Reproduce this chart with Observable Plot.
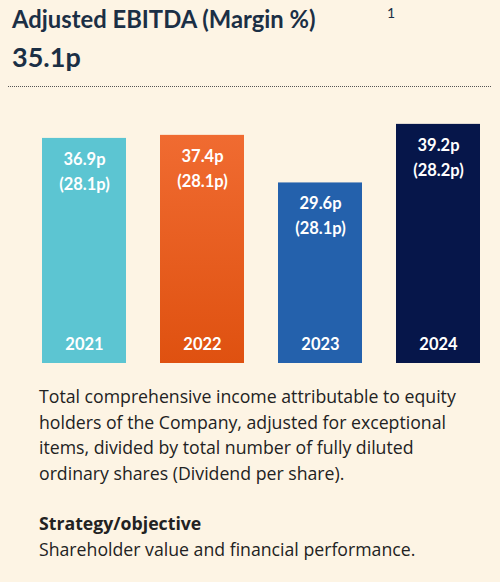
<!DOCTYPE html>
<html>
<head>
<meta charset="utf-8">
<script src="https://cdn.jsdelivr.net/npm/d3@7"></script>
<script src="https://cdn.jsdelivr.net/npm/@observablehq/plot@0.6"></script>
<style>
  html, body { margin: 0; padding: 0; background: #fdf4e4; }
  #card { position: relative; width: 500px; height: 582px; background: #fdf4e4; font-family: Lato, "Open Sans", sans-serif; overflow: hidden; }
  .title { position: absolute; left: 12px; top: 5px; font-size: 23.8px; font-weight: 700; color: #1b2f45; }
  .sup { position: absolute; left: 387px; top: 4px; font-size: 14px; color: #1b2f45; }
  .headline { position: absolute; left: 12px; top: 40px; font-size: 27px; font-weight: 700; color: #1b2f45; }
  .rule { position: absolute; left: 8px; right: 9px; top: 86px; border-top: 1.5px dotted #555; }
  #plot { position: absolute; left: 0; top: 88px; }
  .desc { position: absolute; left: 39px; top: 384px; width: 460px; font-family: "Open Sans", sans-serif; font-size: 17.7px; line-height: 25.5px; color: #222; white-space: nowrap; }
  .desc b { display: block; margin-top: 25px; }
</style>
</head>
<body>
<div id="card">
  <div class="title">Adjusted EBITDA (Margin %)</div>
  <div class="sup">1</div>
  <div class="headline">35.1p</div>
  <div class="rule"></div>
  <div id="plot"></div>
  <div class="desc">
    Total comprehensive income attributable to equity<br>
    holders of the Company, adjusted for exceptional<br>
    items, divided by total number of fully diluted<br>
    ordinary shares (Dividend per share).
    <b>Strategy/objective</b>
    Shareholder value and financial performance.
  </div>
</div>
<script>
const years = ["2021", "2022", "2023", "2024"];
const values = [36.9, 37.4, 29.6, 39.2];
const valueLabels = ["36.9p", "37.4p", "29.6p", "39.2p"];
const priorLabels = ["(28.1p)", "(28.1p)", "(28.1p)", "(28.2p)"];
const colors = ["#5cc5d2", "url(#orangeGrad)", "#2461ac", "#06164a"];

const data = years.map((year, i) => ({
  year,
  value: values[i],
  label: valueLabels[i],
  prior: priorLabels[i],
  color: colors[i]
}));

const plot = Plot.plot({
  width: 500,
  height: 285,
  marginLeft: 41,
  marginRight: 20,
  marginTop: 31,
  marginBottom: 10,
  style: { background: "transparent", fontFamily: "Lato, 'Open Sans', sans-serif" },
  x: { domain: years, paddingInner: 0.29, paddingOuter: 0, axis: null },
  y: { domain: [0, 40], axis: null },
  marks: [
    Plot.barY(data, { x: "year", y: "value", fill: "color" }),
    Plot.text(data, { x: "year", y: "value", text: "label", dy: 21, fill: "white", fontSize: 16.5, fontWeight: 700 }),
    Plot.text(data, { x: "year", y: "value", text: "prior", dy: 46, fill: "white", fontSize: 16.5, fontWeight: 700 }),
    Plot.text(data, { x: "year", y: () => 0, text: "year", dy: -19, fill: "white", fontSize: 16.5, fontWeight: 700 })
  ]
});

// gradient for the 2022 bar
const defs = d3.select(plot).insert("defs", ":first-child");
const grad = defs.append("linearGradient")
  .attr("id", "orangeGrad").attr("x1", 0).attr("y1", 0).attr("x2", 0).attr("y2", 1);
grad.append("stop").attr("offset", "0%").attr("stop-color", "#f06b31");
grad.append("stop").attr("offset", "100%").attr("stop-color", "#df5110");

document.getElementById("plot").appendChild(plot);
</script>
</body>
</html>
